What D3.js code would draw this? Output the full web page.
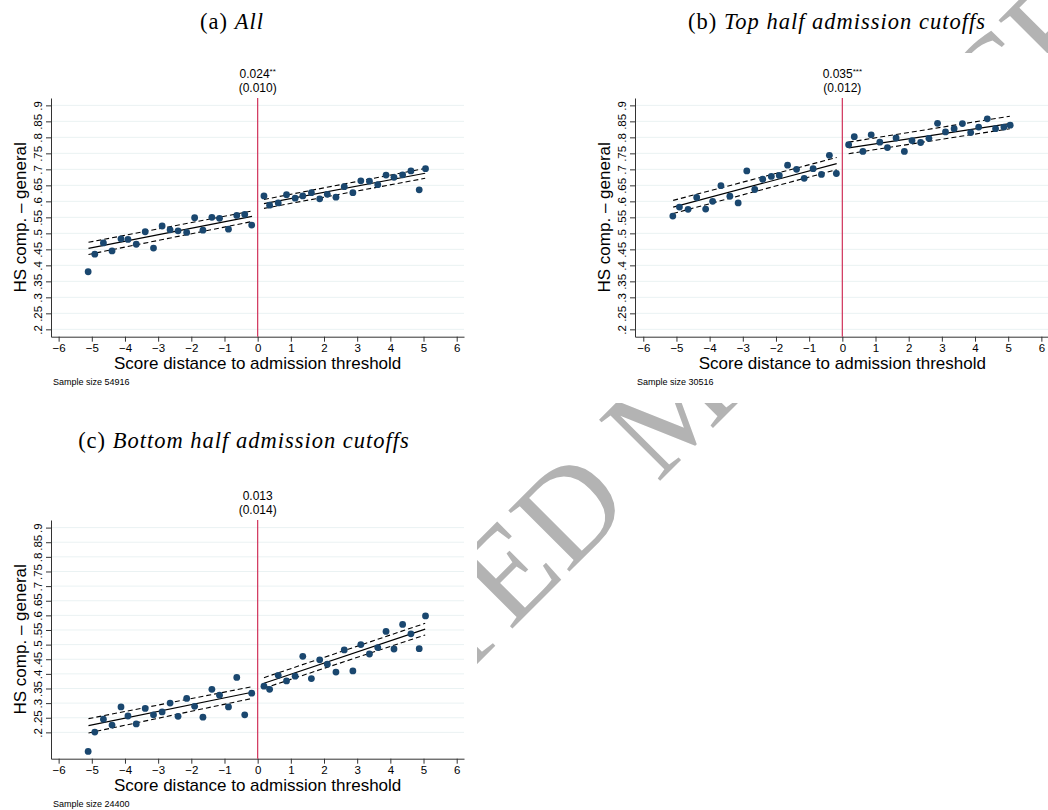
<!DOCTYPE html>
<html>
<head>
<meta charset="utf-8">
<script src="https://cdn.jsdelivr.net/npm/d3@7"></script>
<style>
  body { margin: 0; background: #fff; }
  svg text { font-family: "Liberation Sans", Arial, sans-serif; }
</style>
</head>
<body>
<script>
// bin centres (score distance), same bins in every panel
const binsLeft = [-5.11, -4.91, -4.65, -4.39, -4.12, -3.91, -3.66, -3.39, -3.14, -2.88, -2.64,
  -2.40, -2.14, -1.90, -1.65, -1.38, -1.15, -0.88, -0.63, -0.39, -0.18];
const binsRight = [0.19, 0.36, 0.62, 0.87, 1.13, 1.36, 1.62, 1.87, 2.10, 2.36, 2.61,
  2.87, 3.11, 3.37, 3.62, 3.87, 4.11, 4.37, 4.62, 4.87, 5.06];

// binned means, HS comp. - general
const allLeft = [.380, .435, .470, .445, .483, .481, .466, .505, .454, .523, .511, .508, .503, .549, .510, .550, .547, .513, .556, .559, .526];
const allRight = [.617, .588, .595, .621, .610, .617, .627, .608, .622, .613, .646, .627, .664, .663, .652, .682, .675, .683, .695, .636, .702];
const topLeft = [.554, .582, .575, .612, .576, .600, .649, .616, .595, .695, .637, .669, .678, .681, .713, .700, .672, .702, .684, .744, .687];
const topRight = [.777, .802, .756, .808, .785, .768, .798, .756, .790, .784, .797, .844, .817, .827, .843, .815, .832, .858, .827, .832, .838];
const botLeft = [.135, .201, .245, .225, .287, .256, .229, .282, .260, .270, .300, .255, .316, .289, .252, .347, .327, .287, .388, .260, .334];
const botRight = [.358, .347, .395, .376, .392, .460, .384, .448, .433, .406, .482, .410, .500, .468, .490, .545, .485, .569, .537, .486, .598];

// fitted line and CI at the ends of each side
const fitXLeft = [-5.1, -0.17];
const fitXRight = [0.19, 5.05];
const allFit = { left: [.453, .553], leftHi: [.472, .570], leftLo: [.434, .537],
  right: [.593, .688], rightHi: [.606, .703], rightLo: [.578, .672] };
const topFit = { left: [.582, .718], leftHi: [.603, .737], leftLo: [.562, .699],
  right: [.767, .843], rightHi: [.785, .866], rightLo: [.749, .827] };
const botFit = { left: [.223, .337], leftHi: [.247, .356], leftLo: [.198, .316],
  right: [.368, .553], rightHi: [.387, .573], rightLo: [.351, .533] };

const xTicks = [-6, -5, -4, -3, -2, -1, 0, 1, 2, 3, 4, 5, 6];
const yTicks = [.2, .25, .3, .35, .4, .45, .5, .55, .6, .65, .7, .75, .8, .85, .9];
const yTickLabels = [".2", ".25", ".3", ".35", ".4", ".45", ".5", ".55", ".6", ".65", ".7", ".75", ".8", ".85", ".9"];

const W = 1048, H = 810;
const svg = d3.select("body").append("svg")
  .attr("width", W).attr("height", H);

// watermark sits under the panels
svg.append("text")
  .attr("transform", "translate(152,989) rotate(-45)")
  .style("font-family", "'Liberation Serif', serif")
  .attr("font-size", 132)
  .attr("fill", "#b3b3b3")
  .text("ACCEPTED MANUSCRIPT");

const panels = [
  { title: "All", tag: "(a)", tx: 232, ty: 29, bg: [0, 50, 480, 353],
    x0: 51, x1: 464, y0: 98, y1: 336.7, xDom: [-6.23, 6.22], yDom: [.177, .923],
    left: allLeft, right: allRight, fit: allFit, est: "0.024", stars: "**", se: "(0.010)", n: "54916" },
  { title: "Top half admission cutoffs", tag: "(b)", tx: 837, ty: 29, bg: [590, 53, 458, 350],
    x0: 635, x1: 1048, y0: 98, y1: 336.7, xDom: [-6.25, 6.2], yDom: [.177, .923],
    left: topLeft, right: topRight, fit: topFit, est: "0.035", stars: "***", se: "(0.012)", n: "30516" },
  { title: "Bottom half admission cutoffs", tag: "(c)", tx: 244, ty: 448, bg: [0, 470, 477, 340],
    x0: 51, x1: 464, y0: 520, y1: 758.7, xDom: [-6.23, 6.22], yDom: [.11, .926],
    left: botLeft, right: botRight, fit: botFit, est: "0.013", stars: "", se: "(0.014)", n: "24400" }
];

panels.forEach(p => {
  // white panel background hides the watermark
  svg.append("rect")
    .attr("x", p.bg[0]).attr("y", p.bg[1])
    .attr("width", p.bg[2]).attr("height", p.bg[3])
    .attr("fill", "#fff");

  const x = d3.scaleLinear().domain(p.xDom).range([p.x0, p.x1]);
  const y = d3.scaleLinear().domain(p.yDom).range([p.y1, p.y0]);

  const t = svg.append("text")
    .attr("x", p.tx).attr("y", p.ty)
    .attr("text-anchor", "middle")
    .style("font-family", "'Liberation Serif', serif")
    .style("letter-spacing", "1px")
    .attr("font-size", 22.5);
  t.append("tspan").text(p.tag + " ");
  t.append("tspan").attr("font-style", "italic").text(p.title);

  // gridlines
  svg.append("g").selectAll("line")
    .data(yTicks).enter().append("line")
    .attr("x1", p.x0).attr("x2", p.x1)
    .attr("y1", d => y(d)).attr("y2", d => y(d))
    .attr("stroke", "#eaf2f3").attr("stroke-width", 1);

  // axes
  const gx = svg.append("g")
    .attr("transform", `translate(0,${p.y1})`)
    .call(d3.axisBottom(x).tickValues(xTicks).tickSize(5).tickSizeOuter(0).tickPadding(2));
  gx.selectAll("text").attr("font-size", 11.5).attr("fill", "#000")
    .style("font-family", "'Liberation Sans', Arial, sans-serif");
  gx.selectAll("line, path").attr("stroke", "#333");

  const gy = svg.append("g")
    .attr("transform", `translate(${p.x0},0)`)
    .call(d3.axisLeft(y).tickValues(yTicks).tickFormat((d, i) => yTickLabels[i])
      .tickSize(5).tickSizeOuter(0));
  gy.selectAll("text")
    .attr("transform", "rotate(-90)")
    .attr("x", 0).attr("y", -9).attr("dy", 0)
    .attr("text-anchor", "middle")
    .attr("font-size", 11.5).attr("fill", "#000")
    .style("font-family", "'Liberation Sans', Arial, sans-serif");
  gy.selectAll("line, path").attr("stroke", "#333");

  // axis titles
  svg.append("text")
    .attr("transform", `translate(${p.x0 - 25},${(p.y0 + p.y1) / 2}) rotate(-90)`)
    .attr("text-anchor", "middle")
    .attr("font-size", 17)
    .text("HS comp. \u2013 general");
  svg.append("text")
    .attr("x", x(0)).attr("y", p.y1 + 32)
    .attr("text-anchor", "middle")
    .attr("font-size", 17)
    .text("Score distance to admission threshold");
  svg.append("text")
    .attr("x", p.x0 + 2).attr("y", p.y1 + 48)
    .attr("font-size", 9)
    .text("Sample size " + p.n);

  // cutoff line
  svg.append("line")
    .attr("x1", x(0)).attr("x2", x(0))
    .attr("y1", p.y0).attr("y2", p.y1)
    .attr("stroke", "#d0325a").attr("stroke-width", 1.2);

  // estimate and s.e.
  const e = svg.append("text")
    .attr("x", x(0)).attr("y", p.y0 - 20)
    .attr("text-anchor", "middle")
    .attr("font-size", 12);
  e.append("tspan").text(p.est);
  if (p.stars) e.append("tspan").attr("font-size", 8).attr("dy", -4).text(p.stars);
  svg.append("text")
    .attr("x", x(0)).attr("y", p.y0 - 6)
    .attr("text-anchor", "middle")
    .attr("font-size", 12)
    .text(p.se);

  // fitted lines with CI
  const line = d3.line().x(d => x(d[0])).y(d => y(d[1]));
  const segs = [
    [fitXLeft, p.fit.left, null], [fitXLeft, p.fit.leftHi, "5,3"], [fitXLeft, p.fit.leftLo, "5,3"],
    [fitXRight, p.fit.right, null], [fitXRight, p.fit.rightHi, "5,3"], [fitXRight, p.fit.rightLo, "5,3"]
  ];
  segs.forEach(s => {
    svg.append("path")
      .attr("d", line(d3.zip(s[0], s[1])))
      .attr("fill", "none")
      .attr("stroke", "#000")
      .attr("stroke-width", 1.1)
      .attr("stroke-dasharray", s[2]);
  });

  // binned means
  const pts = d3.zip(binsLeft, p.left).concat(d3.zip(binsRight, p.right));
  svg.append("g").selectAll("circle")
    .data(pts).enter().append("circle")
    .attr("cx", d => x(d[0]))
    .attr("cy", d => y(d[1]))
    .attr("r", 3.4)
    .attr("fill", "#1a476f");
});
</script>
</body>
</html>
